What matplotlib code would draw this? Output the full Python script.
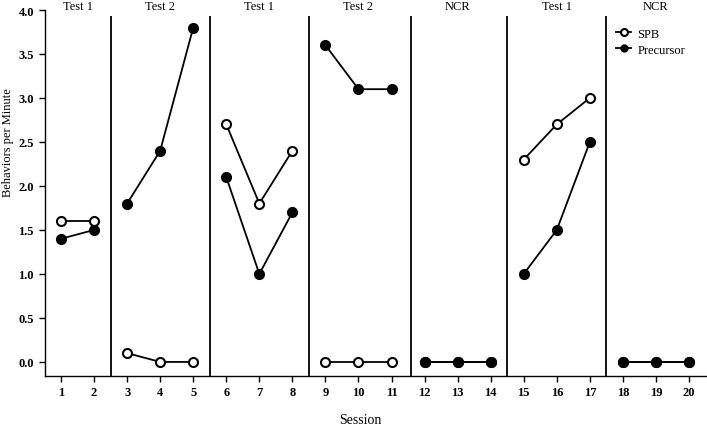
import matplotlib
matplotlib.use("Agg")
import matplotlib.pyplot as plt
import numpy as np

plt.rcParams['font.family'] = ['Liberation Serif', 'DejaVu Serif']

phases = ["Test 1", "Test 2", "Test 1", "Test 2", "NCR", "Test 1", "NCR"]
phase_sessions = [[1, 2], [3, 4, 5], [6, 7, 8], [9, 10, 11], [12, 13, 14], [15, 16, 17], [18, 19, 20]]
spb = [[1.6, 1.6], [0.1, 0.0, 0.0], [2.7, 1.8, 2.4], [0.0, 0.0, 0.0], [0.0, 0.0, 0.0], [2.3, 2.7, 3.0], [0.0, 0.0, 0.0]]
precursor = [[1.4, 1.5], [1.8, 2.4, 3.8], [2.1, 1.0, 1.7], [3.6, 3.1, 3.1], [0.0, 0.0, 0.0], [1.0, 1.5, 2.5], [0.0, 0.0, 0.0]]
dividers = [2.5, 5.5, 8.5, 11.6, 14.5, 17.5]
yticks = [0.0, 0.5, 1.0, 1.5, 2.0, 2.5, 3.0, 3.5, 4.0]
xticks = list(range(1, 21))

fig = plt.figure(figsize=(7.07, 4.27), dpi=100)
ax = fig.add_axes([45/707, 50/427, 662/707, 366/427])

for i, (s, a, b) in enumerate(zip(phase_sessions, spb, precursor)):
    kw_s = dict(color='black', lw=1.3, marker='o', markersize=6.5, markerfacecolor='white',
                markeredgecolor='black', markeredgewidth=1.5, zorder=3)
    kw_p = dict(color='black', lw=1.3, marker='o', markersize=7, markerfacecolor='black',
                markeredgecolor='black', zorder=4)
    ax.plot(s, a, label='SPB' if i == 0 else None, **kw_s)
    ax.plot(s, b, label='Precursor' if i == 0 else None, **kw_p)

ax.set_xlim(0.515, 20.545)
ax.set_ylim(-0.16, 4.0)
ax.vlines(dividers, -0.16, 3.93, colors='black', lw=1.3, zorder=2)

x0, x1 = ax.get_xlim()
for name, s in zip(phases, phase_sessions):
    fx = (45 + (np.mean(s) - x0) / (x1 - x0) * 662) / 707
    fig.text(fx, 1 - 1/427, name, ha='center', va='top', fontsize=9)

ax.spines['top'].set_visible(False)
ax.spines['right'].set_visible(False)
ax.spines['left'].set_bounds(-0.16, 4.0)
for sp in ['left', 'bottom']:
    ax.spines[sp].set_linewidth(1.0)

ax.set_xticks(xticks)
ax.set_xticklabels([str(x) for x in xticks], fontweight='bold', fontsize=9)
ax.set_yticks(yticks)
ax.set_yticklabels([f"{y:.1f}" for y in yticks], fontweight='bold', fontsize=9)
ax.tick_params(axis='x', direction='out', length=4, width=1.0, pad=3)
ax.tick_params(axis='y', direction='out', length=4, width=1.0, pad=4)

fig.text(2/707, 1 - 143/427, "Behaviors per Minute", rotation=90, ha='left', va='center', fontsize=9)
fig.text(360/707, 0/427, "Session", ha='center', va='bottom', fontsize=10)

leg = ax.legend(loc='upper left', bbox_to_anchor=(0.855, 0.965), frameon=False,
                fontsize=9, handlelength=1.2, handletextpad=0.5, labelspacing=0.3,
                borderaxespad=0)
for h in leg.legend_handles:
    h.set_markersize(5)

fig.savefig("out.png", dpi=100)
